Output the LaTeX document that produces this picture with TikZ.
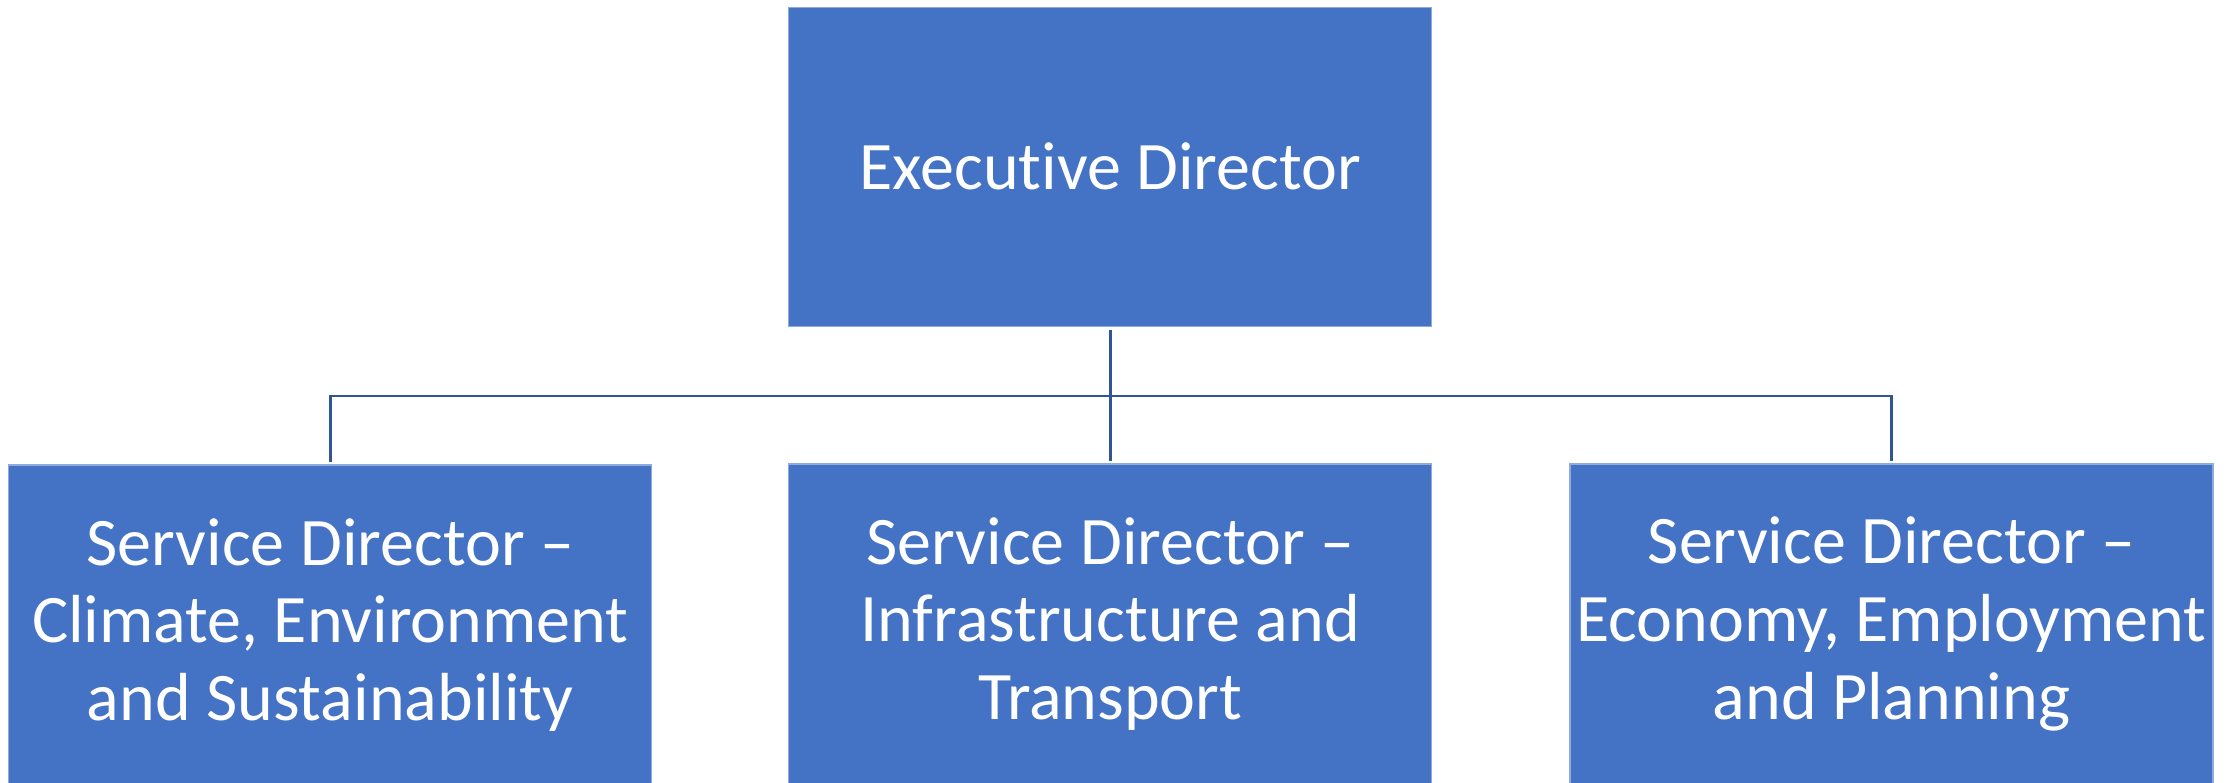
\documentclass[tikz,border=0pt]{standalone}
\usepackage{fontspec}
\setmainfont[Ligatures=NoCommon]{Carlito}
\definecolor{boxblue}{HTML}{4472C4}
\definecolor{lineblue}{HTML}{2F5597}
\definecolor{edgeblue}{HTML}{8FAADC}
\begin{document}
\begin{tikzpicture}[x=0.5pt,y=-0.5pt,
  orgbox/.style={rectangle, fill=boxblue, draw=edgeblue, line width=0.6pt,
    minimum width=321.5pt, minimum height=159.5pt, inner sep=0pt,
    text=white, align=center, font=\fontsize{34}{38.8}\selectfont},
  link/.style={draw=lineblue, line width=1.3pt}]
\useasboundingbox (0,0) rectangle (2236,782);
\node[orgbox] (exec) at (1110.2,166.9) {\raisebox{1.2pt}{Executive Director}};
\node[orgbox, minimum height=160pt] (cli) at (330.2,625) {Service Director –\\Climate, Environment\\and Sustainability};
\node[orgbox, minimum height=160pt] (inf) at (1110.2,624) {Service Director –\\Infrastructure and\\Transport};
\node[orgbox, minimum height=160pt] (eco) at (1891.5,624) {Service Director –\\Economy, Employment\\and Planning};
\coordinate (hub) at (1110.2,396);
\draw[link] (1110.2,329.5) -- (hub);
\draw[link] (hub) -| ([yshift=1pt]cli.north);
\draw[link] (hub) -- ([yshift=1pt]inf.north);
\draw[link] (hub) -| ([yshift=1pt]eco.north);
\end{tikzpicture}
\end{document}
